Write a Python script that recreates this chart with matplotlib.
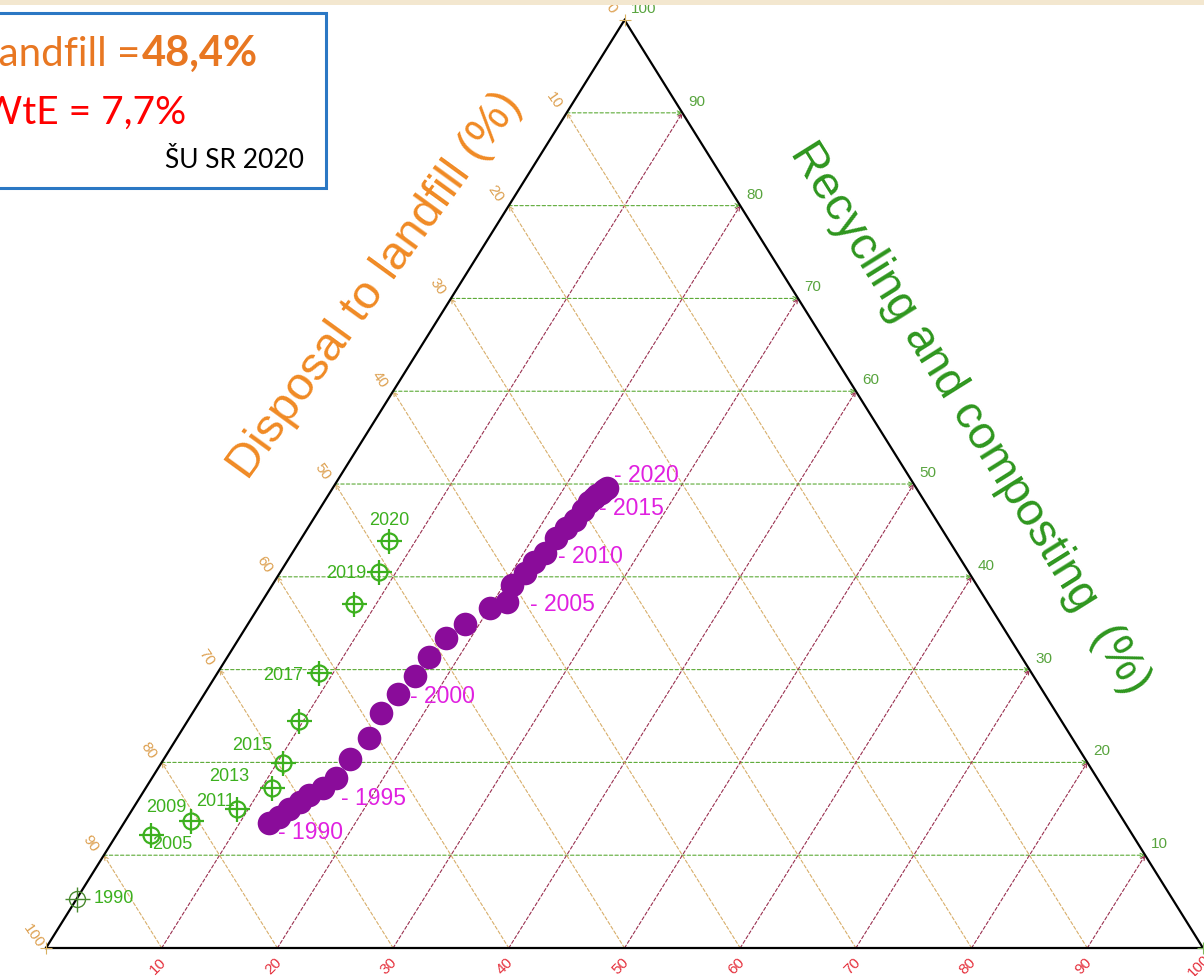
import matplotlib.pyplot as plt
from matplotlib.patches import Rectangle

plt.rcParams["font.family"] = ["Liberation Sans", "DejaVu Sans"]

W_PX, H_PX, DPI = 1204, 976, 100

# EU municipal waste split (% landfill, % recycling+composting; rest is WtE)
eu_years = list(range(1990, 2021))
eu_landfill = [74.0, 72.8, 71.5, 70.2, 69.0, 67.5, 65.8, 63.5, 60.8, 58.4,
               55.9, 53.5, 51.2, 48.7, 46.3, 43.3, 41.5, 40.2, 38.4, 37.0,
               35.6, 33.8, 32.4, 31.2, 30.0, 29.0, 28.4, 28.0, 27.5, 27.1,
               26.7]
eu_recycling = [13.5, 14.1, 15.0, 15.7, 16.5, 17.2, 18.3, 20.4, 22.6, 25.3,
                27.4, 29.3, 31.4, 33.4, 34.9, 36.6, 37.3, 39.1, 40.4, 41.6,
                42.6, 44.2, 45.3, 46.1, 47.2, 48.1, 48.5, 48.8, 49.0, 49.4,
                49.6]
eu_labelled = [1990, 1995, 2000, 2005, 2010, 2015, 2020]

# Slovakia (ŠU SR)
sk_years = [1990, 2005, 2009, 2011, 2013, 2015, 2016, 2017, 2018, 2019, 2020]
sk_landfill = [94.7, 84.8, 80.6, 76.0, 71.9, 69.6, 65.9, 61.6, 54.8, 51.0, 48.4]
sk_recycling = [5.3, 12.2, 13.7, 15.0, 17.2, 19.9, 24.5, 29.6, 37.1, 40.5, 43.9]
sk_labelled = [1990, 2005, 2009, 2011, 2013, 2015, 2017, 2019, 2020]

ticks = list(range(0, 101, 10))

# label placement in pixels (dx, dy, ha)
eu_label_pos = {1990: (9, 10), 1995: (18, 10), 2000: (12, 3), 2005: (40, -4),
                2010: (13, 4), 2015: (10, 7), 2020: (7, -12)}
sk_label_pos = {1990: (17, 0, "left"), 2005: (1, 10, "left"),
                2009: (-5, -13, "right"), 2011: (-2, -7, "right"),
                2013: (-22, -12, "right"), 2015: (-10, -18, "right"),
                2017: (-16, 2, "right"), 2019: (-12, 1, "right"),
                2020: (0, -20, "center")}

C_LAND = "#F08A24"
C_LAND_TICK = "#DDA050"
C_REC = "#2E961E"
C_REC_TICK = "#58A43E"
C_WTE_TICK = "#E5303C"
C_EU = "#8A0C9A"
C_EU_TEXT = "#E020E0"
C_SK = "#3CB01E"


def to_xy(landfill, recycling):
    wte = 100.0 - landfill - recycling
    return wte + 0.5 * recycling, recycling


def px(dx, dy):
    return dx * 72 / DPI, -dy * 72 / DPI


fig = plt.figure(figsize=(W_PX / DPI, H_PX / DPI), dpi=DPI)
fig.patches.append(Rectangle((0, 1 - 5 / H_PX), 1, 5 / H_PX,
                             transform=fig.transFigure, color="#F3E7CF", lw=0))
ax = fig.add_axes([0, 0, 1, 1])
ax.set_xlim(-3.976, 100.086)
ax.set_ylim(-3.017, 102.16)
ax.axis("off")


def guide(p0, p1, color):
    ax.annotate("", xy=p1, xytext=p0,
                arrowprops=dict(arrowstyle="->", color=color, lw=0.8,
                                linestyle=(0, (3, 2)), shrinkA=0, shrinkB=0,
                                mutation_scale=7))


for v in ticks[1:-1]:
    # constant recycling (horizontal), constant WtE, constant landfill
    guide((0.5 * v, v), (100 - 0.5 * v, v), "#5CAA36")
    guide((v, 0), (v + 0.5 * (100 - v), 100 - v), "#9A3050")
    guide((100 - v, 0), (0.5 * (100 - v), 100 - v), "#D8AE6A")

ax.plot([0, 100, 50, 0], [0, 0, 100, 0], color="black", lw=1.6,
        solid_joinstyle="miter", zorder=3)
ax.plot([50, 0], [100, 0], "+", color="#D8B060", ms=9, mew=0.8, zorder=4)
ax.plot([100], [0], "+", color="#7CB85A", ms=9, mew=0.8, zorder=4)

# tick labels on the three sides
for v in ticks:
    ax.annotate(str(v), xy=(0.5 * (100 - v), 100 - v), xytext=px(-13, -12),
                textcoords="offset points", ha="center", va="center",
                rotation=-55, fontsize=11, color=C_LAND_TICK)
for v in ticks[1:]:
    ax.annotate(str(v), xy=(100 - 0.5 * v, v), xytext=px(6, -11),
                textcoords="offset points", ha="left", va="center",
                fontsize=11, color=C_REC_TICK)
    ax.annotate(str(v), xy=(v, 0), xytext=px(-4, 18),
                textcoords="offset points", ha="center", va="center",
                rotation=45, fontsize=11, color=C_WTE_TICK)

ax.text(28.44, 71.4, "Disposal to landfill (%)", rotation=54, fontsize=34,
        color=C_LAND, ha="center", va="center", rotation_mode="anchor")
ax.text(79.86, 57.1, "Recycling and composting  (%)", rotation=-58,
        fontsize=33.5, color=C_REC, ha="center", va="center",
        rotation_mode="anchor")

# EU trajectory
eu_x, eu_y = zip(*[to_xy(l, r) for l, r in zip(eu_landfill, eu_recycling)])
ax.plot(eu_x, eu_y, "o", color=C_EU, ms=17, mew=0, zorder=5)
for yr in eu_labelled:
    i = eu_years.index(yr)
    dx, dy = eu_label_pos[yr]
    ax.annotate(f"- {yr}", xy=(eu_x[i], eu_y[i]), xytext=px(dx, dy),
                textcoords="offset points", ha="left", va="center",
                fontsize=16.5, color=C_EU_TEXT, zorder=6)

# Slovakia
sk_x, sk_y = zip(*[to_xy(l, r) for l, r in zip(sk_landfill, sk_recycling)])
for i, yr in enumerate(sk_years):
    col, lw = ("#4A8A30", 1.0) if yr == 1990 else (C_SK, 1.6)
    ax.plot(sk_x[i], sk_y[i], "o", mfc="none", mec=col, ms=11.5, mew=lw,
            zorder=6)
    ax.plot(sk_x[i], sk_y[i], "+", color=col, ms=18, mew=lw, zorder=6)
    if yr in sk_label_pos:
        dx, dy, ha = sk_label_pos[yr]
        ax.annotate(str(yr), xy=(sk_x[i], sk_y[i]), xytext=px(dx, dy),
                    textcoords="offset points", ha=ha, va="center",
                    fontsize=13, color=C_SK, zorder=6)

# summary box for Slovakia 2020
fig.patches.append(Rectangle((-10 / W_PX, 1 - 188 / H_PX), 336 / W_PX,
                             175 / H_PX, transform=fig.transFigure,
                             facecolor="white", edgecolor="#2B78C4", lw=2.2,
                             zorder=0))
box_font = ["Lato", "DejaVu Sans"]
fig.text(140 / W_PX, 1 - 66 / H_PX, "Landfill =", ha="right", va="baseline",
         fontsize=29, color="#E87722", family=box_font)
fig.text(142 / W_PX, 1 - 66 / H_PX, f"{sk_landfill[-1]:.1f}%".replace(".", ","),
         ha="left", va="baseline", fontsize=30, fontweight="bold",
         color="#E87722", family=box_font)
sk_wte_2020 = 100 - sk_landfill[-1] - sk_recycling[-1]
fig.text(186 / W_PX, 1 - 124 / H_PX,
         f"WtE = {sk_wte_2020:.1f}%".replace(".", ","), ha="right",
         va="baseline", fontsize=28, color="#FF0000", family=box_font)
fig.text(304 / W_PX, 1 - 168 / H_PX, "ŠU SR 2020", ha="right", va="baseline",
         fontsize=19, color="black", family=box_font)

fig.savefig("out.png", dpi=DPI)
